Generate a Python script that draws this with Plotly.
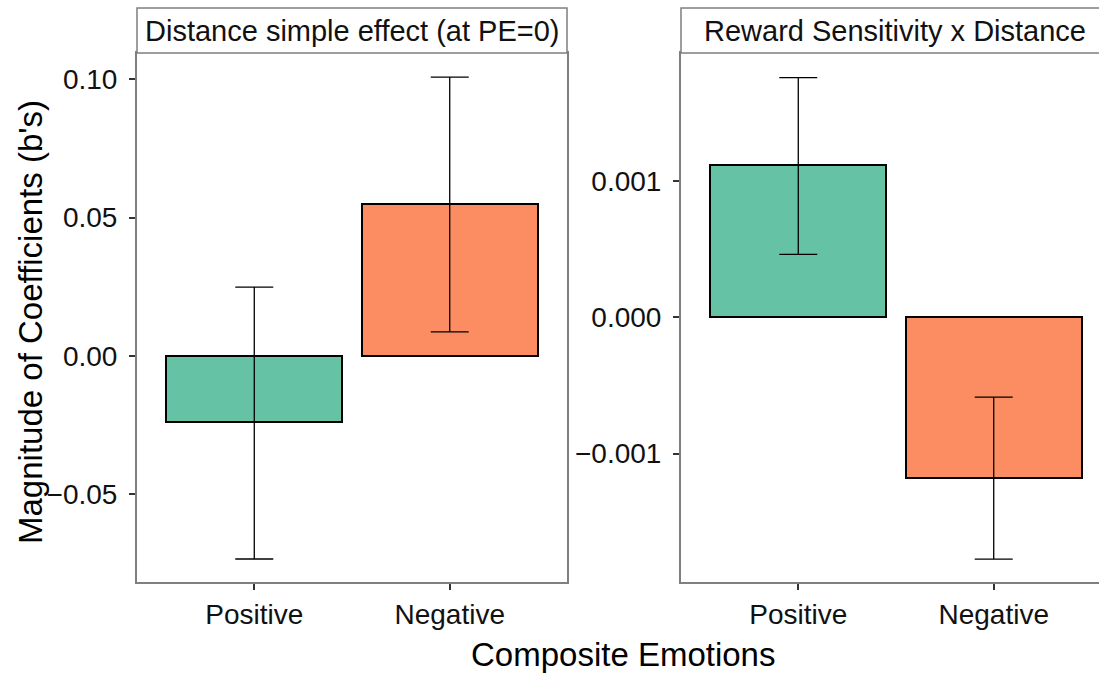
import plotly.graph_objects as go

# ---- data ----
categories = ["Positive", "Negative"]
colors = ["#66C2A5", "#FC8D62"]

dist_est = [-0.0238, 0.0549]
dist_lo = [-0.0733, 0.0087]
dist_hi = [0.0249, 0.1007]

rs_est = [0.001114, -0.00118]
rs_lo = [0.000462, -0.001773]
rs_hi = [0.001758, -0.000586]

panel_titles = ["Distance simple effect (at PE=0)", "Reward Sensitivity x Distance"]

left_ticks = [-0.05, 0.0, 0.05, 0.10]
left_ticktext = ["\u22120.05", "0.00", "0.05", "0.10"]
right_ticks = [-0.001, 0.0, 0.001]
right_ticktext = ["\u22120.001", "0.000", "0.001"]

W, H = 1099, 673
FONT = "Liberation Sans, Arial, Helvetica, sans-serif"
GRAY = "#7f7f7f"

def px_x(p):
    return p / W

def px_y(p):
    return (H - p) / H

fig = go.Figure()

def add_bars(est, lo, hi, xa, ya):
    fig.add_trace(go.Bar(
        x=categories, y=est, xaxis=xa, yaxis=ya,
        width=0.9,
        marker=dict(color=colors, line=dict(color="black", width=2)),
        error_y=dict(type="data", symmetric=False,
                     array=[h - e for h, e in zip(hi, est)],
                     arrayminus=[e - l for e, l in zip(est, lo)],
                     color="black", thickness=1.3, width=19),
        showlegend=False,
    ))

add_bars(dist_est, dist_lo, dist_hi, "x", "y")
add_bars(rs_est, rs_lo, rs_hi, "x2", "y2")

ydom = [px_y(582), px_y(53)]
tickfont = dict(family=FONT, size=28, color="#111111")

common_x = dict(type="category", showgrid=False, zeroline=False, showline=True,
                linecolor=GRAY, linewidth=2, mirror=True, ticks="outside",
                ticklen=6, tickcolor="#333333", tickwidth=1.5, tickfont=tickfont)
common_y = dict(showgrid=False, zeroline=False, showline=True, linecolor=GRAY,
                linewidth=2, ticks="outside", ticklen=6, tickcolor="#333333",
                tickwidth=1.5, tickfont=tickfont, ticklabelstandoff=6)

fig.update_layout(
    width=W, height=H,
    margin=dict(l=0, r=0, t=0, b=0),
    paper_bgcolor="white", plot_bgcolor="white",
    bargap=0,
    xaxis=dict(domain=[px_x(137), px_x(567)], range=[-0.6, 1.6], anchor="y", **common_x),
    yaxis=dict(domain=ydom, range=[-0.0816, 0.1094], anchor="x",
               tickvals=left_ticks, ticktext=left_ticktext, mirror=True, **common_y),
    xaxis2=dict(domain=[px_x(681), 1.0], range=[-0.6, -0.6 + 418 / 195.45], anchor="y2", **common_x),
    yaxis2=dict(domain=ydom, range=[-0.001941, 0.001938], anchor="x2",
                tickvals=right_ticks, ticktext=right_ticktext, mirror=False, **common_y),
)

# strips
strip_y0, strip_y1 = px_y(53), px_y(8)
for (x0, x1) in [(px_x(137), px_x(567)), (px_x(681), px_x(1109))]:
    fig.add_shape(type="rect", xref="paper", yref="paper", x0=x0, x1=x1,
                  y0=strip_y0, y1=strip_y1, fillcolor="white",
                  line=dict(color=GRAY, width=1.5), layer="above")

fig.add_annotation(text=panel_titles[0], xref="paper", yref="paper",
                   x=px_x(352), y=px_y(31), showarrow=False,
                   font=dict(family=FONT, size=29, color="#111111"),
                   xanchor="center", yanchor="middle")
fig.add_annotation(text=panel_titles[1], xref="paper", yref="paper",
                   x=px_x(895), y=px_y(31), showarrow=False,
                   font=dict(family=FONT, size=29, color="#111111"),
                   xanchor="center", yanchor="middle")

# axis titles
fig.add_annotation(text="Magnitude of Coefficients (b's)", xref="paper", yref="paper",
                   x=px_x(30), y=px_y(322), showarrow=False, textangle=-90,
                   font=dict(family=FONT, size=33, color="black"),
                   xanchor="center", yanchor="middle")
fig.add_annotation(text="Composite Emotions", xref="paper", yref="paper",
                   x=px_x(623), y=px_y(654), showarrow=False,
                   font=dict(family=FONT, size=33, color="black"),
                   xanchor="center", yanchor="middle")

fig.write_html("out.html", config={"displayModeBar": False},
               post_script="document.body.style.margin='0';document.body.style.overflow='hidden';")
